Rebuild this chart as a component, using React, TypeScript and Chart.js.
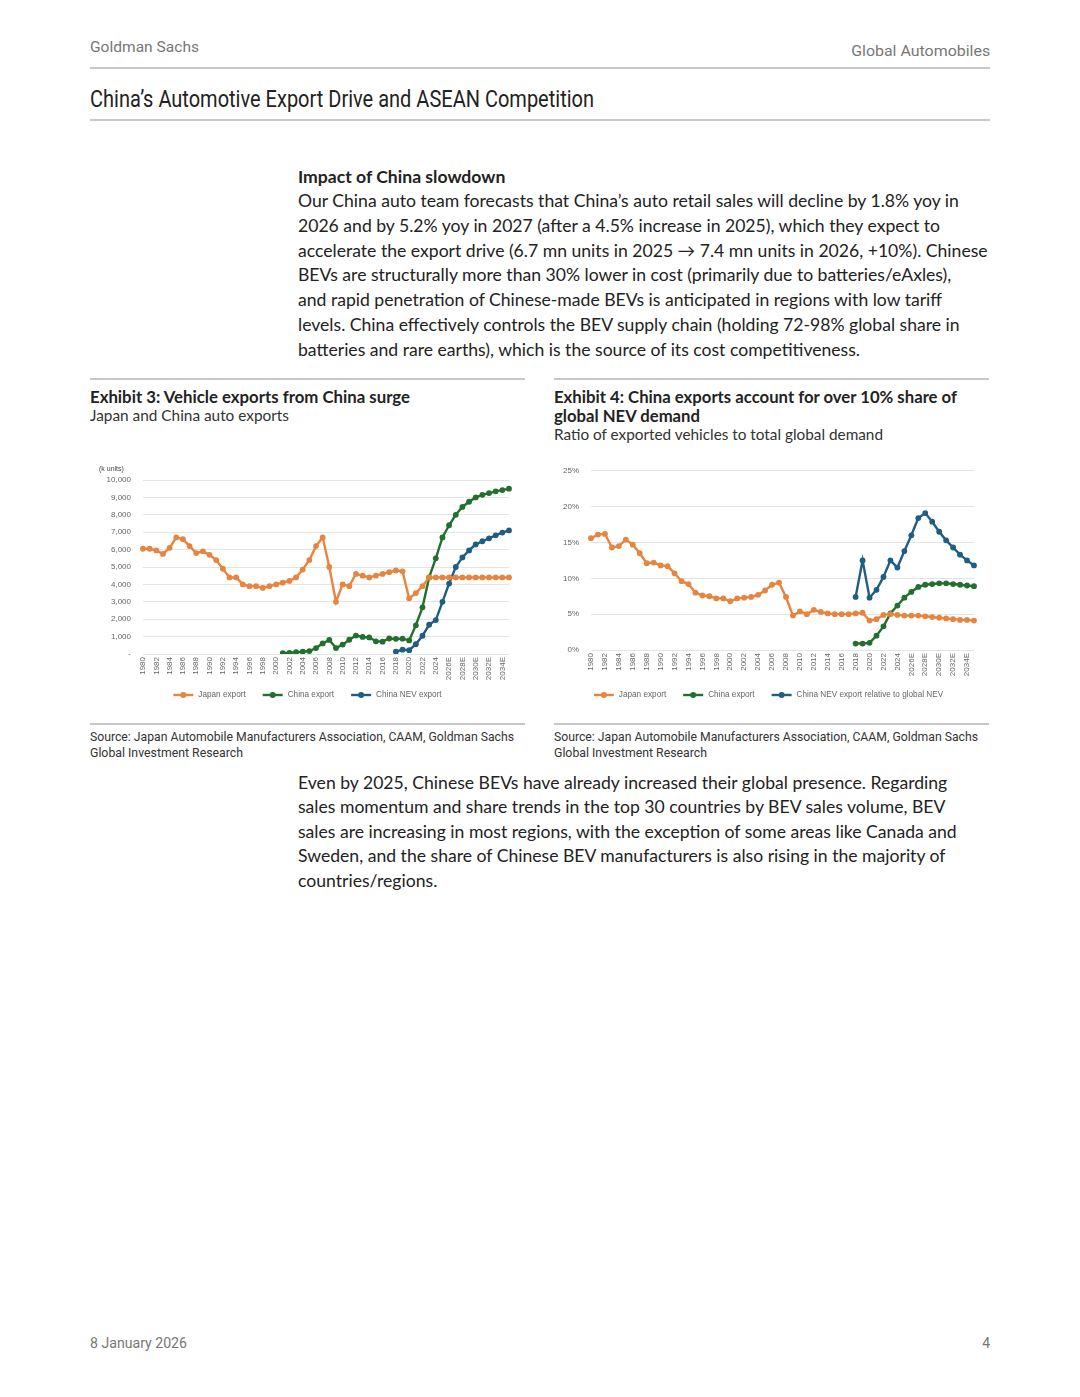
import React, { useEffect, useLayoutEffect, useRef } from "react";
import { Chart, registerables } from "chart.js";

Chart.register(...registerables);

// ---------- DATA ----------
const yearLabels = [
  "1980","1981","1982","1983","1984","1985","1986","1987","1988","1989",
  "1990","1991","1992","1993","1994","1995","1996","1997","1998","1999",
  "2000","2001","2002","2003","2004","2005","2006","2007","2008","2009",
  "2010","2011","2012","2013","2014","2015","2016","2017","2018","2019",
  "2020","2021","2022","2023","2024","2025E","2026E","2027E","2028E","2029E",
  "2030E","2031E","2032E","2033E","2034E","2035E",
];

// Exhibit 3: exports, k units
const japanExportStart = "1980";
const japanExport = [
  6050, 6050, 5950, 5750, 6100, 6700, 6600, 6200, 5800, 5900,
  5700, 5400, 4900, 4400, 4400, 4000, 3900, 3900, 3800, 3900,
  4000, 4100, 4200, 4400, 4850, 5400, 6200, 6700, 5000, 3000,
  4000, 3900, 4600, 4500, 4400, 4500, 4600, 4700, 4800, 4750,
  3200, 3500, 3900, 4400, 4400, 4400, 4400, 4400, 4400, 4400,
  4400, 4400, 4400, 4400, 4400, 4400,
];
const chinaExportStart = "2001";
const chinaExport = [
  50, 70, 100, 130, 170, 340, 610, 810, 340, 540,
  820, 1060, 980, 950, 730, 710, 890, 870, 880, 780,
  1650, 2680, 4400, 5500, 6700, 7400, 8000, 8450, 8750, 9000,
  9150, 9250, 9350, 9420, 9500,
];
const chinaNevExportStart = "2018";
const chinaNevExport = [
  130, 250, 220, 560, 1050, 1680, 1950, 3000, 4050, 5000,
  5550, 5950, 6300, 6480, 6650, 6820, 6980, 7100,
];

// Exhibit 4: ratio to global demand, %
const japanRatioStart = "1980";
const japanRatio = [
  15.6, 16.1, 16.2, 14.3, 14.5, 15.4, 14.7, 13.5, 12.1, 12.2,
  11.8, 11.7, 10.7, 9.6, 9.2, 8.0, 7.6, 7.5, 7.2, 7.2,
  6.8, 7.2, 7.3, 7.4, 7.7, 8.3, 9.1, 9.4, 7.4, 4.8,
  5.4, 5.0, 5.6, 5.3, 5.1, 5.0, 5.0, 5.0, 5.1, 5.2,
  4.1, 4.3, 4.9, 5.0, 4.9, 4.8, 4.8, 4.8, 4.7, 4.6,
  4.5, 4.4, 4.3, 4.2, 4.2, 4.1,
];
const chinaRatioStart = "2018";
const chinaRatio = [
  0.9, 0.9, 1.0, 2.0, 3.3, 5.1, 6.2, 7.3, 8.1, 8.8,
  9.1, 9.2, 9.3, 9.3, 9.2, 9.1, 9.0, 8.9,
];
const chinaNevRatioStart = "2018";
const chinaNevRatio = [
  7.4, 12.5, 7.3, 8.4, 10.2, 12.5, 11.5, 13.8, 16.0, 18.4,
  19.1, 17.9, 16.5, 15.3, 14.3, 13.3, 12.5, 11.8,
];

const ex3Legend = ["Japan export", "China export", "China NEV export"];
const ex4Legend = ["Japan export", "China export", "China NEV export relative to global NEV"];

// ---------- STYLE ----------
const ORANGE = "#E6853F";
const GREEN = "#236F30";
const BLUE = "#1F5E80";
const TICK = "#666666";
const GRID = "#E4E4E4";
const CHART_FONT = "'Liberation Sans', Arial, sans-serif";
const NARROW = "Roboto, 'Liberation Sans', sans-serif";
const BODY = "Lato, 'Noto Sans', sans-serif";

function toPoints(start: string, values: number[]) {
  const s = yearLabels.indexOf(start);
  return values.map((v, i) => ({ x: yearLabels[s + i], y: v }));
}

const lineLegend = {
  id: "lineLegend",
  afterDraw(chart: any, _args: any, opts: any) {
    const ctx = chart.ctx;
    ctx.save();
    ctx.font = `${opts.fontSize || 8}px ${CHART_FONT}`;
    const lineW = 20;
    const items = chart.data.datasets.map((ds: any) => ({
      label: ds.label,
      color: ds.borderColor,
      w: lineW + 5 + ctx.measureText(ds.label).width,
    }));
    const gap = 17;
    const total = items.reduce((s: number, it: any) => s + it.w, 0) + gap * (items.length - 1);
    let x = (chart.width - total) / 2 + (opts.shift || 0);
    const y = opts.y;
    items.forEach((it: any) => {
      ctx.strokeStyle = it.color;
      ctx.lineWidth = 2.4;
      ctx.beginPath();
      ctx.moveTo(x, y);
      ctx.lineTo(x + lineW, y);
      ctx.stroke();
      ctx.fillStyle = it.color;
      ctx.beginPath();
      ctx.arc(x + lineW / 2, y, 3, 0, Math.PI * 2);
      ctx.fill();
      ctx.fillStyle = TICK;
      ctx.textBaseline = "middle";
      ctx.textAlign = "left";
      ctx.fillText(it.label, x + lineW + 5, y);
      x += it.w + gap;
    });
    ctx.restore();
  },
};

function makeDataset(label: string, color: string, data: any[]) {
  return {
    label,
    data,
    borderColor: color,
    backgroundColor: color,
    borderWidth: 2.4,
    pointRadius: 2.9,
    pointBorderWidth: 0,
    pointBackgroundColor: color,
    tension: 0,
    spanGaps: false,
  };
}

type ChartProps = {
  datasets: any[];
  yMax: number;
  yStep: number;
  yFormat: (v: number) => string;
  axisWidth: number;
  tickPad: number;
  pad: { top: number; right: number; bottom: number; left: number };
  legendY: number;
  legendShift?: number;
};

function LineChart(props: ChartProps) {
  const ref = useRef<HTMLCanvasElement | null>(null);
  useEffect(() => {
    if (!ref.current) return;
    const chart = new Chart(ref.current, {
      type: "line",
      data: { labels: yearLabels, datasets: props.datasets },
      plugins: [lineLegend as any],
      options: {
        animation: false,
        responsive: false,
        maintainAspectRatio: false,
        layout: { padding: props.pad },
        plugins: {
          legend: { display: false },
          tooltip: { enabled: false },
          lineLegend: { y: props.legendY, fontSize: 8.2, shift: props.legendShift || 0 },
        } as any,
        scales: {
          x: {
            type: "category",
            offset: false,
            grid: { display: false, drawTicks: false },
            border: { display: false },
            afterFit: (s: any) => {
              s.height = 34;
            },
            ticks: {
              autoSkip: false,
              maxRotation: 90,
              minRotation: 90,
              padding: 3,
              color: TICK,
              font: { size: 8, family: CHART_FONT },
              callback: function (_v: any, i: number) {
                return i % 2 === 0 ? yearLabels[i] : "";
              },
            },
          },
          y: {
            min: 0,
            max: props.yMax,
            afterFit: (s: any) => {
              s.width = props.axisWidth;
            },
            grid: { color: GRID, lineWidth: 1, drawTicks: false },
            border: { display: false },
            ticks: {
              stepSize: props.yStep,
              padding: props.tickPad,
              color: TICK,
              font: { size: 8, family: CHART_FONT },
              callback: (v: any) => props.yFormat(Number(v)),
            },
          },
        },
      },
    });
    return () => chart.destroy();
  }, []);
  return <canvas ref={ref} width={435} height={250} style={{ display: "block", width: 435, height: 250 }} />;
}

// Text squeezed/stretched horizontally to the measured width in the reference
function Fit(props: { w: number; right?: boolean; style?: React.CSSProperties; children: React.ReactNode }) {
  const ref = useRef<HTMLSpanElement | null>(null);
  useLayoutEffect(() => {
    const el = ref.current;
    if (!el) return;
    el.style.transform = "none";
    const natural = el.getBoundingClientRect().width;
    if (natural > 0) el.style.transform = `scaleX(${props.w / natural})`;
  }, []);
  return (
    <span
      ref={ref}
      style={{
        display: "inline-block",
        whiteSpace: "nowrap",
        transformOrigin: props.right ? "right center" : "left center",
        ...props.style,
      }}
    >
      {props.children}
    </span>
  );
}

const abs = (l: number, t: number, extra: React.CSSProperties = {}): React.CSSProperties => ({
  position: "absolute",
  left: l,
  top: t,
  whiteSpace: "nowrap",
  ...extra,
});

const para1 = [
  "Our China auto team forecasts that China\u2019s auto retail sales will decline by 1.8% yoy in",
  "2026 and by 5.2% yoy in 2027 (after a 4.5% increase in 2025), which they expect to",
  "accelerate the export drive (6.7 mn units in 2025 \u2192 7.4 mn units in 2026, +10%). Chinese",
  "BEVs are structurally more than 30% lower in cost (primarily due to batteries/eAxles),",
  "and rapid penetration of Chinese-made BEVs is anticipated in regions with low tariff",
  "levels. China effectively controls the BEV supply chain (holding 72-98% global share in",
  "batteries and rare earths), which is the source of its cost competitiveness.",
];
const para2 = [
  "Even by 2025, Chinese BEVs have already increased their global presence. Regarding",
  "sales momentum and share trends in the top 30 countries by BEV sales volume, BEV",
  "sales are increasing in most regions, with the exception of some areas like Canada and",
  "Sweden, and the share of Chinese BEV manufacturers is also rising in the majority of",
  "countries/regions.",
];

export default function App() {
  const ex3Sets = [
    makeDataset(ex3Legend[0], ORANGE, toPoints(japanExportStart, japanExport)),
    makeDataset(ex3Legend[1], GREEN, toPoints(chinaExportStart, chinaExport)),
    makeDataset(ex3Legend[2], BLUE, toPoints(chinaNevExportStart, chinaNevExport)),
  ];
  const ex4Sets = [
    makeDataset(ex4Legend[0], ORANGE, toPoints(japanRatioStart, japanRatio)),
    makeDataset(ex4Legend[1], GREEN, toPoints(chinaRatioStart, chinaRatio)),
    makeDataset(ex4Legend[2], BLUE, toPoints(chinaNevRatioStart, chinaNevRatio)),
  ];

  const rule = (l: number, t: number, w: number, h = 2, c = "#C8C8C8") => (
    <div style={{ position: "absolute", left: l, top: t, width: w, height: h, background: c }} />
  );

  const srcStyle: React.CSSProperties = { fontFamily: NARROW, fontSize: 13, lineHeight: "16px", color: "#333" };

  return (
    <div style={{ position: "absolute", left: 0, top: 0, width: 1080, height: 1397, background: "#fff", overflow: "hidden", color: "#222" }}>
      {/* header */}
      <div style={abs(90, 37, { fontFamily: NARROW, fontSize: 15.5, color: "#777", lineHeight: "20px" })}>
        <Fit w={109}>Goldman Sachs</Fit>
      </div>
      <div style={abs(0, 41, { width: 990, textAlign: "right", fontFamily: NARROW, fontSize: 15.5, color: "#777", lineHeight: "20px" })}>
        <Fit w={139} right>Global Automobiles</Fit>
      </div>
      {rule(90, 67, 900)}
      <div style={abs(90, 85, { fontFamily: NARROW, fontSize: 24, color: "#222", lineHeight: "28px" })}>
        <Fit w={504}>China{"\u2019"}s Automotive Export Drive and ASEAN Competition</Fit>
      </div>
      {rule(90, 119, 900)}

      {/* paragraph 1 */}
      <div style={abs(298, 164.6, { fontFamily: BODY, fontSize: 17.6, lineHeight: "24.7px", color: "#222" })}>
        <div style={{ fontWeight: 700 }}>Impact of China slowdown</div>
        {para1.map((l, i) => (
          <div key={i}>{l}</div>
        ))}
      </div>

      {/* exhibit headers */}
      {rule(90, 378, 435)}
      {rule(554, 378, 435)}
      <div style={abs(90, 387, { fontFamily: BODY, fontSize: 16.3, fontWeight: 700, lineHeight: "19px" })}>
        <Fit w={320}>Exhibit 3: Vehicle exports from China surge</Fit>
      </div>
      <div style={abs(90, 406, { fontFamily: BODY, fontSize: 15.2, lineHeight: "18px", color: "#333" })}>
        <Fit w={199}>Japan and China auto exports</Fit>
      </div>
      <div style={abs(554, 387, { fontFamily: BODY, fontSize: 16.3, fontWeight: 700, lineHeight: "19px" })}>
        <div><Fit w={403}>Exhibit 4: China exports account for over 10% share of</Fit></div>
        <div><Fit w={146}>global NEV demand</Fit></div>
      </div>
      <div style={abs(554, 425, { fontFamily: BODY, fontSize: 15.2, lineHeight: "18px", color: "#333" })}>
        <Fit w={329}>Ratio of exported vehicles to total global demand</Fit>
      </div>

      {/* charts */}
      <div style={abs(90, 460)}>
        <LineChart
          datasets={ex3Sets}
          yMax={10000}
          yStep={1000}
          yFormat={(v) => (v === 0 ? "-" : v.toLocaleString("en-US"))}
          axisWidth={53}
          tickPad={12}
          pad={{ top: 20, right: 16, bottom: 22, left: 0 }}
          legendY={235}
        />
      </div>
      <div style={abs(99, 464, { fontFamily: CHART_FONT, fontSize: 7, color: "#444", lineHeight: "9px" })}>(k units)</div>
      <div style={abs(554, 454)}>
        <LineChart
          datasets={ex4Sets}
          yMax={25}
          yStep={5}
          yFormat={(v) => `${v}%`}
          axisWidth={37}
          tickPad={12}
          pad={{ top: 10, right: 15, bottom: 20, left: 0 }}
          legendY={241}
          legendShift={-3}
        />
      </div>

      {/* sources */}
      {rule(90, 723, 435)}
      {rule(554, 723, 435)}
      <div style={abs(90, 729, srcStyle)}>
        <div><Fit w={424}>Source: Japan Automobile Manufacturers Association, CAAM, Goldman Sachs</Fit></div>
        <div><Fit w={153}>Global Investment Research</Fit></div>
      </div>
      <div style={abs(554, 729, srcStyle)}>
        <div><Fit w={424}>Source: Japan Automobile Manufacturers Association, CAAM, Goldman Sachs</Fit></div>
        <div><Fit w={153}>Global Investment Research</Fit></div>
      </div>

      {/* paragraph 2 */}
      <div style={abs(298, 770.75, { fontFamily: BODY, fontSize: 17.6, lineHeight: "24.5px", color: "#222" })}>
        {para2.map((l, i) => (
          <div key={i}>{l}</div>
        ))}
      </div>

      {/* footer */}
      <div style={abs(90, 1334, { fontFamily: NARROW, fontSize: 14, color: "#777", lineHeight: "18px" })}>
        <Fit w={97}>8 January 2026</Fit>
      </div>
      <div style={abs(0, 1334, { width: 990, textAlign: "right", fontFamily: NARROW, fontSize: 14, color: "#777", lineHeight: "18px" })}>4</div>
    </div>
  );
}
